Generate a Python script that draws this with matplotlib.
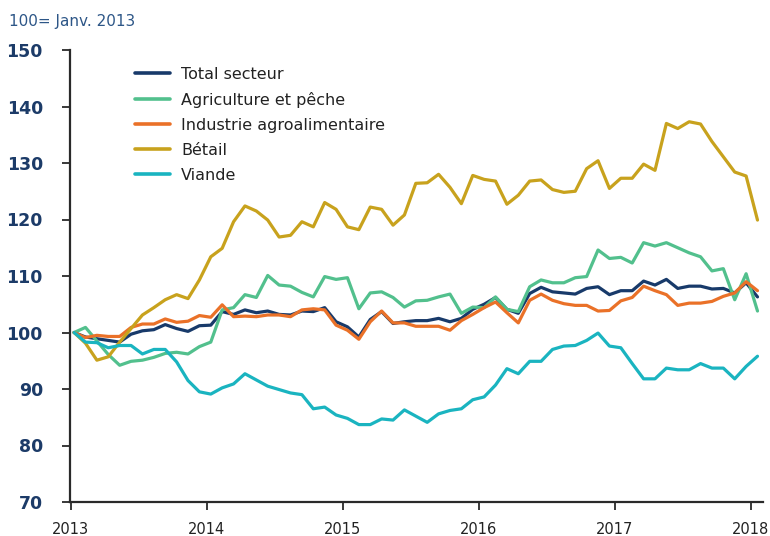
import numpy as np
import matplotlib
matplotlib.use("Agg")
import matplotlib.pyplot as plt

plt.rcParams['font.family'] = ['DejaVu Sans']

# ---- data (monthly index, Jan 2013 = 100, Jan 2013 .. Jan 2018) ----
series_names = ["Total secteur", "Agriculture et pêche", "Industrie agroalimentaire", "Bétail", "Viande"]

total_secteur = [100, 99.2, 98.9, 98.6, 98.3, 99.7, 100.3, 100.5, 101.4, 100.7, 100.2, 101.2,
                 101.3, 103.7, 103.2, 104.0, 103.5, 103.8, 103.2, 103.1, 103.8, 103.7, 104.4, 101.9,
                 101.0, 99.2, 102.3, 103.7, 101.6, 101.9, 102.1, 102.1, 102.5, 101.9, 102.5, 104.1,
                 105.0, 106.2, 104.1, 103.4, 106.9, 108.0, 107.2, 107.0, 106.8, 107.8, 108.1, 106.7,
                 107.4, 107.4, 109.1, 108.4, 109.4, 107.8, 108.2, 108.2, 107.7, 107.8, 107.0, 108.8,
                 106.3]

agriculture = [100, 100.9, 98.5, 96.1, 94.2, 94.9, 95.1, 95.6, 96.3, 96.5, 96.2, 97.5,
               98.3, 104.0, 104.4, 106.7, 106.2, 110.1, 108.4, 108.2, 107.1, 106.3, 109.9, 109.4,
               109.7, 104.2, 107.0, 107.2, 106.2, 104.5, 105.6, 105.7, 106.3, 106.8, 103.4, 104.5,
               104.4, 106.3, 104.1, 103.7, 108.1, 109.3, 108.8, 108.8, 109.7, 109.9, 114.6, 113.1,
               113.3, 112.3, 115.9, 115.3, 115.9, 115.0, 114.1, 113.4, 110.9, 111.3, 105.8, 110.4,
               103.8]

industrie = [100, 99.1, 99.5, 99.3, 99.3, 100.9, 101.5, 101.5, 102.4, 101.8, 102.0, 103.0,
             102.7, 104.9, 102.8, 102.9, 102.8, 103.1, 103.1, 102.8, 104.0, 104.2, 104.0, 101.3,
             100.4, 98.8, 101.9, 103.8, 101.7, 101.7, 101.1, 101.1, 101.1, 100.4, 102.1, 103.2,
             104.4, 105.4, 103.5, 101.7, 105.7, 106.8, 105.7, 105.1, 104.8, 104.8, 103.8, 103.9,
             105.6, 106.2, 108.2, 107.4, 106.7, 104.8, 105.2, 105.2, 105.5, 106.4, 107.0, 109.0,
             107.4]

betail = [100, 98.1, 95.1, 95.7, 98.3, 100.7, 103.1, 104.4, 105.8, 106.7, 106.0, 109.3,
          113.4, 114.9, 119.6, 122.4, 121.5, 119.9, 116.9, 117.2, 119.6, 118.7, 123.0, 121.8,
          118.7, 118.2, 122.2, 121.8, 119.0, 120.8, 126.4, 126.5, 128.0, 125.7, 122.8, 127.8,
          127.1, 126.8, 122.7, 124.3, 126.8, 127.0, 125.3, 124.8, 125.0, 129.0, 130.4, 125.5,
          127.3, 127.3, 129.8, 128.7, 137.0, 136.1, 137.3, 136.9, 133.8, 131.1, 128.4, 127.7,
          119.9]

viande = [100, 98.3, 98.2, 97.3, 97.7, 97.7, 96.2, 97.0, 97.0, 94.8, 91.5, 89.5,
          89.1, 90.2, 90.9, 92.7, 91.6, 90.5, 89.9, 89.3, 89.0, 86.5, 86.8, 85.4,
          84.8, 83.7, 83.7, 84.7, 84.5, 86.3, 85.2, 84.1, 85.6, 86.2, 86.5, 88.1,
          88.6, 90.7, 93.6, 92.7, 94.9, 94.9, 97.0, 97.6, 97.7, 98.6, 99.9, 97.6,
          97.3, 94.5, 91.8, 91.8, 93.7, 93.4, 93.4, 94.5, 93.7, 93.7, 91.8, 94.0,
          95.8]

year_ticks = [2013, 2014, 2015, 2016, 2017, 2018]
y_ticks = [70, 80, 90, 100, 110, 120, 130, 140, 150]

colors = ["#183a6a", "#52c08d", "#ea7128", "#c8a21d", "#1ab4c0"]

# positions of the monthly points along a decimal-year axis
x = np.linspace(2013.025, 2018.05, len(total_secteur))

# ---- figure ----
W, H = 770, 536
fig = plt.figure(figsize=(W / 100, H / 100), dpi=100)
left, right, top, bottom = 70, 763, 50, 502
ax = fig.add_axes([left / W, 1 - bottom / H, (right - left) / W, (bottom - top) / H])

for vals, name, c in zip([total_secteur, agriculture, industrie, betail, viande], series_names, colors):
    ax.plot(x, vals, color=c, lw=2.3, label=name, solid_joinstyle='round', solid_capstyle='round')

ax.set_xlim(2013 - 0.7 / 136, 2013 + (763 - 70.7) / 136)
ax.set_ylim(70, 150)
ax.set_xticks(year_ticks)
ax.set_xticklabels([str(y) for y in year_ticks])
ax.set_yticks(y_ticks)
ax.set_yticklabels([str(v) for v in y_ticks])

for s in ['top', 'right']:
    ax.spines[s].set_visible(False)
for s in ['left', 'bottom']:
    ax.spines[s].set_color('#2a2a2a')
    ax.spines[s].set_linewidth(1.6)

ax.tick_params(axis='y', direction='out', length=5.5, width=1.3, color='#2a2a2a',
               pad=14, labelsize=12.5, labelcolor='#1c3b68')
for lab in ax.get_yticklabels():
    lab.set_fontweight('bold')
ax.tick_params(axis='x', direction='out', length=5.5, width=1.3, color='#2a2a2a',
               pad=9, labelsize=10.5, labelcolor='#222222')

leg = ax.legend(loc='upper left', bbox_to_anchor=(135 / W, 1 - 67 / H),
                bbox_transform=fig.transFigure, frameon=False, fontsize=11.5,
                handlelength=2.2, handletextpad=0.7, labelspacing=0.62,
                borderpad=0, borderaxespad=0)
for t in leg.get_texts():
    t.set_color('#222222')
for h in leg.get_lines():
    h.set_linewidth(2.6)

fig.text(9 / W, 1 - 26 / H, "100= Janv. 2013", fontsize=11, color='#2d5687',
         ha='left', va='baseline')

fig.savefig("out.png", dpi=100)
